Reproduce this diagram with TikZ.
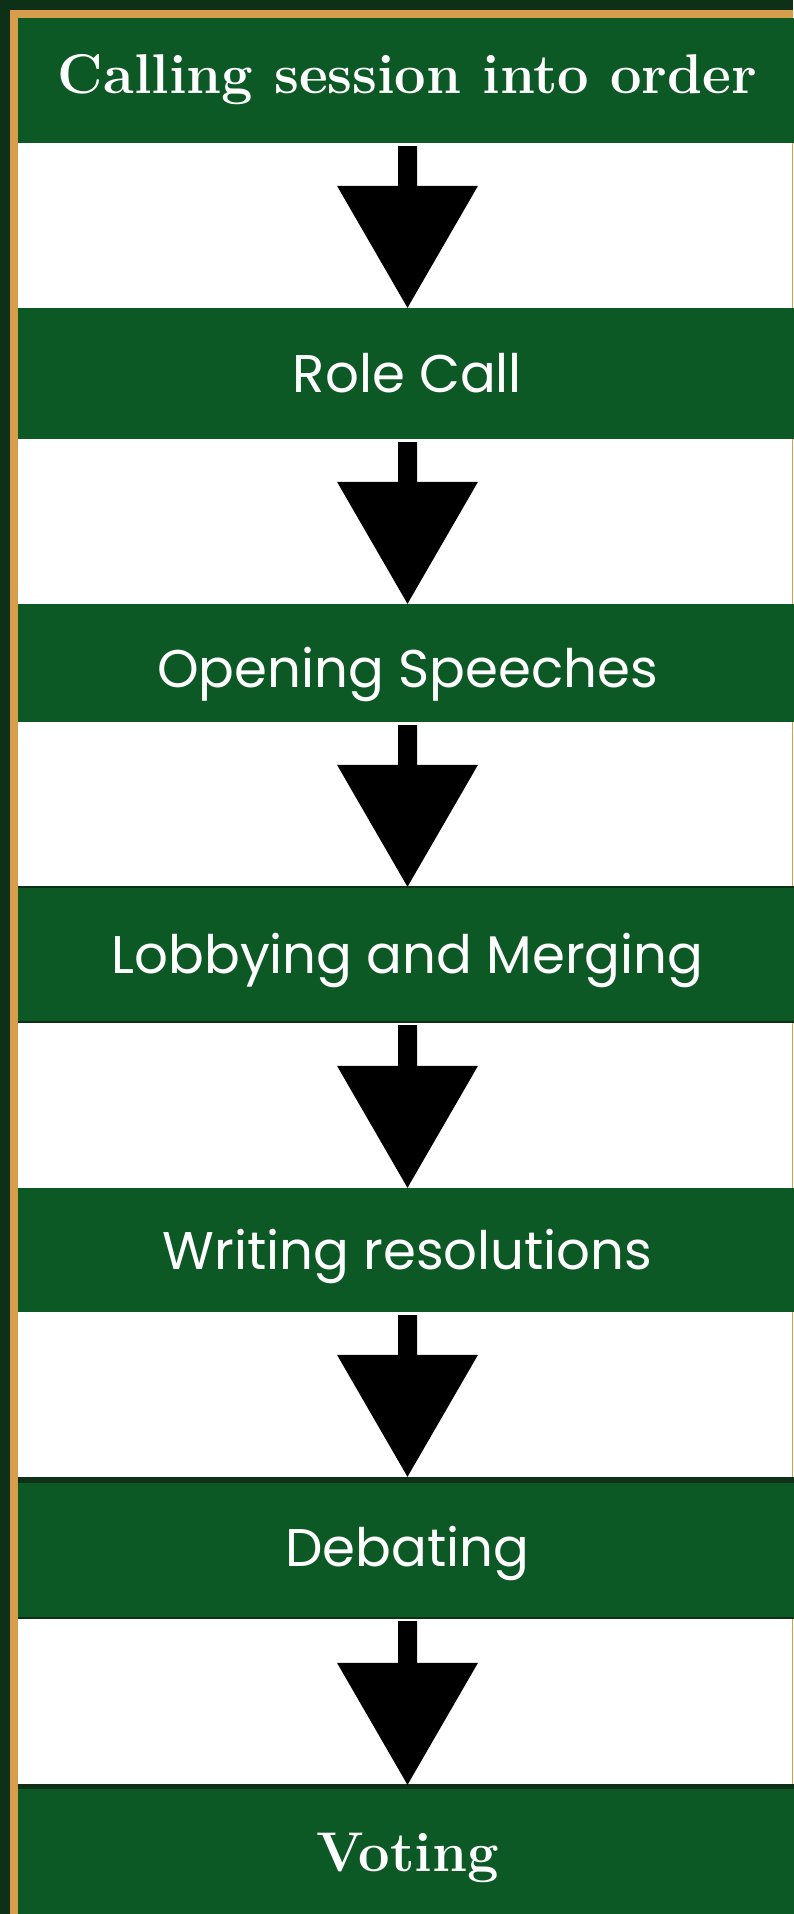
\documentclass[tikz,border=0pt]{standalone}
\usepackage{fontspec}
\usetikzlibrary{calc}
\newfontfamily\poppins{Poppins}

\definecolor{stagegreen}{RGB}{12,89,37}
\definecolor{darkgreen}{RGB}{13,48,22}
\definecolor{framegold}{RGB}{214,158,75}

\tikzset{
    stage/.style={rectangle, fill=stagegreen, text=white, inner sep=0pt,
        minimum width=779pt, text height=38pt, text depth=0pt,
        font=\poppins\fontsize{53}{60}\selectfont},
    headstage/.style={stage, text height=38pt,
        font=\bfseries\fontsize{56}{62}\selectfont},
    darkedge/.style={darkgreen, line width=2pt},
}

\newcommand{\stagearrow}[2]{%
    \fill[black] let \p1=(#1.south), \p2=(#2.north) in
        (\x1-9.5pt,\y1-3pt) -- (\x1+9.5pt,\y1-3pt) -- (\x1+9.5pt,\y2+122pt)
        -- (\x1+70.5pt,\y2+122pt) -- (\x2,\y2) -- (\x1-70.5pt,\y2+122pt)
        -- (\x1-9.5pt,\y2+122pt) -- cycle;}

\begin{document}
\begin{tikzpicture}[x=1pt, y=-1pt]
        \useasboundingbox (0,0) rectangle (793,1914);
        \fill[darkgreen] (0,0) rectangle (793,1914);
        \fill[framegold] (10,10) rectangle (793,1914);
        \fill[white] (18,18) rectangle (792,1914);

        \node[headstage, minimum height=125pt, text depth=12pt] (call) at (407.5,80.5) {Calling session into order};
        \node[stage, minimum height=131pt] (roll) at (407.5,373.5) {Role Call};
        \node[stage, minimum height=118pt, text height=48pt] (open) at (407.5,663) {Opening Speeches};
        \node[stage, minimum height=135pt] (lobby) at (407.5,954.5) {Lobbying and Merging};
        \node[stage, minimum height=124pt] (write) at (407.5,1250) {Writing resolutions};
        \node[stage, minimum height=141pt] (debate) at (407.5,1547.5) {Debating};
        \node[headstage, minimum height=134pt] (vote) at (407.5,1852) {Voting};

        %\draw[darkedge] (open.south west) -- (open.south east);
        \draw[darkedge] (lobby.north west) -- (lobby.north east);
        \draw[darkedge] (lobby.south west) -- (lobby.south east);
        \draw[darkedge, line width=6pt] ($(debate.north west)+(0,3)$) -- ($(debate.north east)+(0,3)$);
        \draw[darkedge] (debate.south west) -- (debate.south east);
        \draw[darkedge, line width=5pt] ($(vote.north west)+(0,1.5)$) -- ($(vote.north east)+(0,1.5)$);

        \stagearrow{call}{roll}
        \stagearrow{roll}{open}
        \stagearrow{open}{lobby}
        \stagearrow{lobby}{write}
        \stagearrow{write}{debate}
        \stagearrow{debate}{vote}
    \end{tikzpicture}
\end{document}
